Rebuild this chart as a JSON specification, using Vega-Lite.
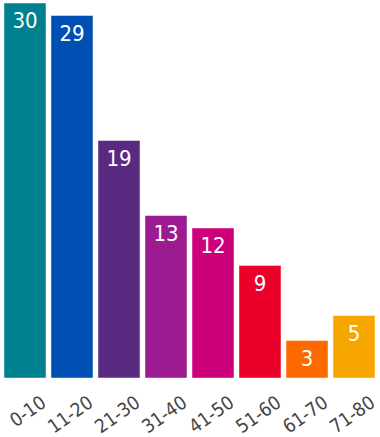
{
  "$schema": "https://vega.github.io/schema/vega-lite/v6.json",
  "autosize": "none",
  "width": 376,
  "height": 375,
  "padding": {"left": 1.5, "top": 3, "right": 2.5, "bottom": 59},
  "background": "white",
  "config": {"view": {"stroke": null}, "font": "DejaVu Sans"},
  "data": {"values": [
    {"range": "0-10", "count": 30, "color": "#00818f"},
    {"range": "11-20", "count": 29, "color": "#0050b4"},
    {"range": "21-30", "count": 19, "color": "#5a2a80"},
    {"range": "31-40", "count": 13, "color": "#9c1b90"},
    {"range": "41-50", "count": 12, "color": "#cc007a"},
    {"range": "51-60", "count": 9, "color": "#ea0029"},
    {"range": "61-70", "count": 3, "color": "#ff6a00"},
    {"range": "71-80", "count": 5, "color": "#f7a600"}
  ]},
  "encoding": {
    "x": {"field": "range", "type": "nominal", "sort": null,
      "scale": {"paddingInner": 0.106, "paddingOuter": 0.053},
      "axis": {"title": null, "domain": false, "ticks": false, "labelAngle": -35,
        "labelAlign": "right", "labelBaseline": "middle", "labelPadding": 22,
        "labelOffset": 19, "labelFontSize": 19, "labelColor": "#444444", "labelFont": "DejaVu Sans Condensed"}},
    "y": {"field": "count", "type": "quantitative", "scale": {"domain": [0, 30]}, "axis": null}
  },
  "layer": [
    {"mark": {"type": "bar", "strokeWidth": 1, "stroke": "white", "strokeOpacity": 0.45},
     "encoding": {"fill": {"field": "color", "type": "nominal", "scale": null}}},
    {"mark": {"type": "text", "color": "white", "fontSize": 22, "font": "DejaVu Sans Condensed", "baseline": "alphabetic", "dy": 25},
     "encoding": {"text": {"field": "count", "type": "quantitative"}}}
  ]
}
